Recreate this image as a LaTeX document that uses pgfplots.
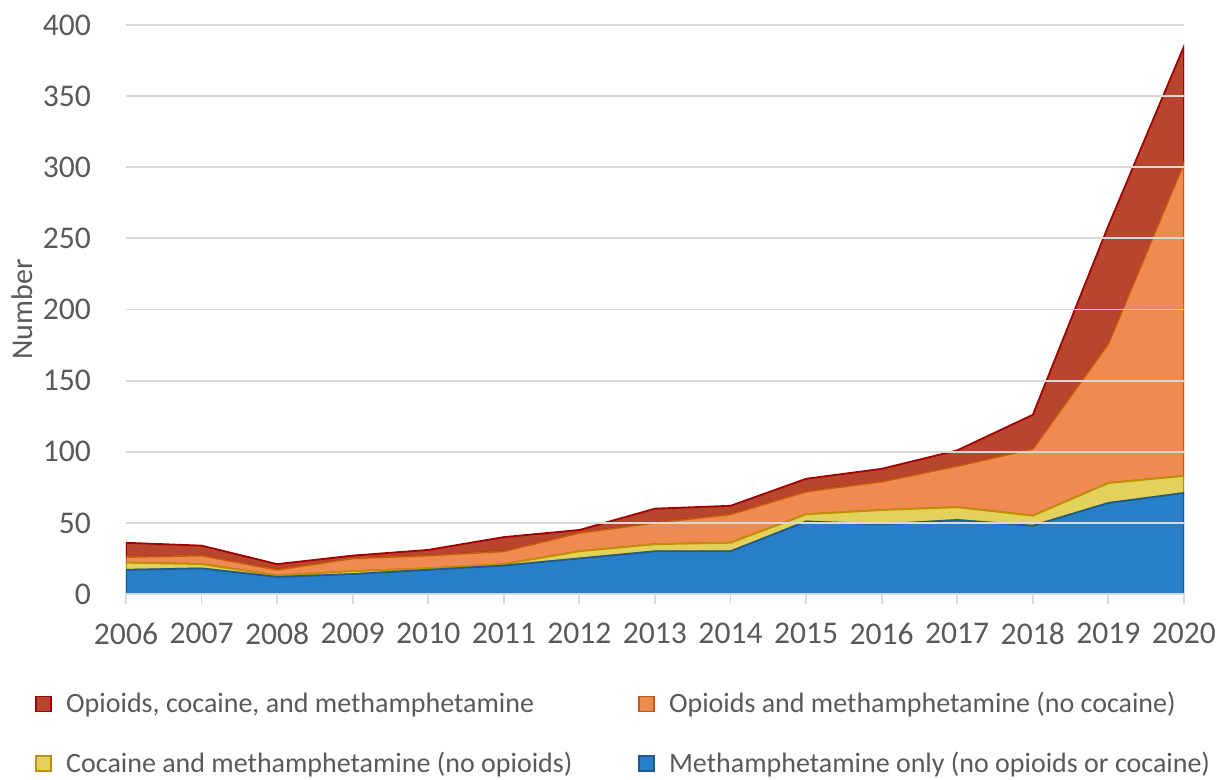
\documentclass[border=0pt]{standalone}
\usepackage{pgfplots}
\pgfplotsset{compat=1.18}
\usepackage{fontspec}
\setmainfont{Carlito}
\usetikzlibrary{calc}
\definecolor{txt}{HTML}{595959}
\definecolor{gridc}{HTML}{D9D9D9}
\definecolor{bluef}{HTML}{2780C7}
\definecolor{bluel}{HTML}{1F5A8E}
\definecolor{yelf}{HTML}{E2D25C}
\definecolor{yell}{HTML}{BF9000}
\definecolor{oraf}{HTML}{EF8B50}
\definecolor{oral}{HTML}{C55A11}
\definecolor{redf}{HTML}{B8462E}
\definecolor{redl}{HTML}{A00000}
\begin{document}
\begin{tikzpicture}
\begin{axis}[
  name=ax,
  scale only axis,
  width=529pt, height=284.5pt,
  xmin=2006, xmax=2020, ymin=0, ymax=400,
  xtick={2006,2007,...,2020},
  ytick={0,50,...,400},
  xticklabel style={/pgf/number format/1000 sep=},
  /pgf/number format/assume math mode=true,
  ticklabel style={font=\fontsize{15.8}{18}\selectfont, text=txt},
  yticklabel style={xshift=-9pt},
  xticklabel style={yshift=-6pt},
  axis x line*=bottom, axis y line*=left,
  x axis line style={draw=gridc, line width=0.9pt, -},
  y axis line style={draw=none},
  xtick style={draw=gridc, line width=0.9pt},
  ytick style={draw=none},
  tick align=outside,
  major tick length=5pt,
  ymajorgrids,
  grid style={draw=gridc, line width=0.9pt},
  ylabel={Number},
  ylabel style={at={(axis description cs:-0.098,0.5)}, anchor=center, font=\fontsize{15}{18}\selectfont, text=txt},
  stack plots=y,
  area style,
  reverse legend,
  legend columns=2,
  legend cell align=left,
  legend image code/.code={\draw[#1, line width=0.9pt] (0pt,-3.75pt) rectangle (7.5pt,3.75pt); \path (12.5pt,0pt);},
  legend style={draw=none, fill=none, at={(axis description cs:-0.086,-0.165)}, anchor=north west,
    font=\fontsize{14}{17}\selectfont, text=txt, row sep=14pt, inner sep=0pt},
]
\addplot[draw=bluel, fill=bluef, line width=0.9pt] coordinates {
(2006,17) (2007,18) (2008,12) (2009,14) (2010,17) (2011,20) (2012,25) (2013,30) (2014,30) (2015,51) (2016,49) (2017,52) (2018,48) (2019,64) (2020,71)} \closedcycle;
\addlegendentry{Methamphetamine only (no opioids or cocaine)}
\addplot[draw=yell, fill=yelf, line width=0.9pt] coordinates {
(2006,5) (2007,3) (2008,1) (2009,2) (2010,1) (2011,1) (2012,5) (2013,5) (2014,6) (2015,5) (2016,10) (2017,9) (2018,7) (2019,14) (2020,12)} \closedcycle;
\addlegendentry{\makebox[284pt][l]{Cocaine and methamphetamine (no opioids)}}
\addplot[draw=oral, fill=oraf, line width=0.9pt] coordinates {
(2006,4) (2007,6) (2008,4) (2009,9) (2010,9) (2011,9) (2012,13) (2013,15) (2014,20) (2015,16) (2016,20) (2017,29) (2018,47) (2019,98) (2020,220)} \closedcycle;
\addlegendentry{Opioids and methamphetamine (no cocaine)}
\addplot[draw=redl, fill=redf, line width=0.9pt] coordinates {
(2006,10) (2007,7) (2008,4) (2009,2) (2010,4) (2011,10) (2012,2) (2013,10) (2014,6) (2015,9) (2016,9) (2017,11) (2018,24) (2019,83) (2020,82)} \closedcycle;
\addlegendentry{\makebox[284pt][l]{Opioids, cocaine, and methamphetamine}}
\end{axis}
\path[use as bounding box] ($(ax.south west)+(-63pt,-90pt)$) rectangle ($(ax.north east)+(20.5pt,12.5pt)$);
\end{tikzpicture}
\end{document}
